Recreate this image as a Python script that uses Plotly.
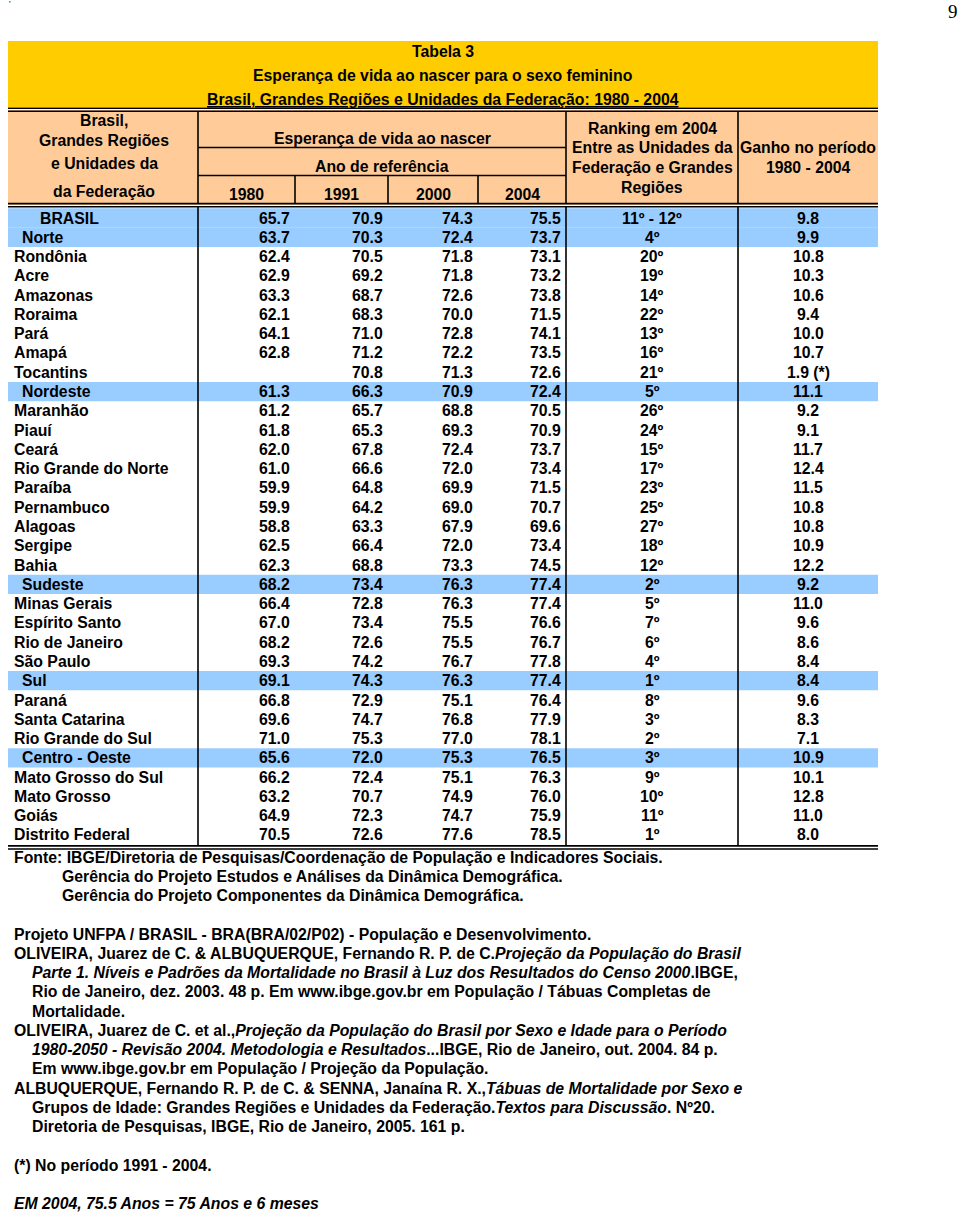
import plotly.graph_objects as go

# ---------------- data ----------------
names = ["BRASIL", "Norte", "Rondônia", "Acre", "Amazonas", "Roraima", "Pará", "Amapá", "Tocantins",
         "Nordeste", "Maranhão", "Piauí", "Ceará", "Rio Grande do Norte", "Paraíba", "Pernambuco",
         "Alagoas", "Sergipe", "Bahia",
         "Sudeste", "Minas Gerais", "Espírito Santo", "Rio de Janeiro", "São Paulo",
         "Sul", "Paraná", "Santa Catarina", "Rio Grande do Sul",
         "Centro - Oeste", "Mato Grosso do Sul", "Mato Grosso", "Goiás", "Distrito Federal"]
country = ["BRASIL"]
regions = ["Norte", "Nordeste", "Sudeste", "Sul", "Centro - Oeste"]

years = ["1980", "1991", "2000", "2004"]
v1980 = [65.7, 63.7, 62.4, 62.9, 63.3, 62.1, 64.1, 62.8, None,
         61.3, 61.2, 61.8, 62.0, 61.0, 59.9, 59.9, 58.8, 62.5, 62.3,
         68.2, 66.4, 67.0, 68.2, 69.3,
         69.1, 66.8, 69.6, 71.0,
         65.6, 66.2, 63.2, 64.9, 70.5]
v1991 = [70.9, 70.3, 70.5, 69.2, 68.7, 68.3, 71.0, 71.2, 70.8,
         66.3, 65.7, 65.3, 67.8, 66.6, 64.8, 64.2, 63.3, 66.4, 68.8,
         73.4, 72.8, 73.4, 72.6, 74.2,
         74.3, 72.9, 74.7, 75.3,
         72.0, 72.4, 70.7, 72.3, 72.6]
v2000 = [74.3, 72.4, 71.8, 71.8, 72.6, 70.0, 72.8, 72.2, 71.3,
         70.9, 68.8, 69.3, 72.4, 72.0, 69.9, 69.0, 67.9, 72.0, 73.3,
         76.3, 76.3, 75.5, 75.5, 76.7,
         76.3, 75.1, 76.8, 77.0,
         75.3, 75.1, 74.9, 74.7, 77.6]
v2004 = [75.5, 73.7, 73.1, 73.2, 73.8, 71.5, 74.1, 73.5, 72.6,
         72.4, 70.5, 70.9, 73.7, 73.4, 71.5, 70.7, 69.6, 73.4, 74.5,
         77.4, 77.4, 76.6, 76.7, 77.8,
         77.4, 76.4, 77.9, 78.1,
         76.5, 76.3, 76.0, 75.9, 78.5]
ranking = ["11º - 12º", "4º", "20º", "19º", "14º", "22º", "13º", "16º", "21º",
           "5º", "26º", "24º", "15º", "17º", "23º", "25º", "27º", "18º", "12º",
           "2º", "5º", "7º", "6º", "4º",
           "1º", "8º", "3º", "2º",
           "3º", "9º", "10º", "11º", "1º"]
ganho = [9.8, 9.9, 10.8, 10.3, 10.6, 9.4, 10.0, 10.7, 1.9,
         11.1, 9.2, 9.1, 11.7, 12.4, 11.5, 10.8, 10.8, 10.9, 12.2,
         9.2, 11.0, 9.6, 8.6, 8.4,
         8.4, 9.6, 8.3, 7.1,
         10.9, 10.1, 12.8, 11.0, 8.0]
ganho_note = {"Tocantins": " (*)"}

title_lines = ["Tabela 3",
               "Esperança de vida ao nascer para o sexo feminino",
               "Brasil, Grandes Regiões e Unidades da Federação: 1980 - 2004"]
stub_header = ["Brasil,", "Grandes Regiões", "e Unidades da", "da Federação"]
group_header = "Esperança de vida ao nascer"
sub_header = "Ano de referência"
rank_header = ["Ranking em 2004", "Entre as Unidades da", "Federação e Grandes", "Regiões"]
gain_header = ["Ganho no período", "1980 - 2004"]

footnotes = [
    (0, "Fonte: IBGE/Diretoria de Pesquisas/Coordenação de População e Indicadores Sociais."),
    (2, "Gerência do Projeto Estudos e Análises da Dinâmica Demográfica."),
    (2, "Gerência do Projeto Componentes da Dinâmica Demográfica."),
    (None, ""),
    (0, "Projeto UNFPA / BRASIL - BRA(BRA/02/P02) - População e Desenvolvimento."),
    (0, "OLIVEIRA, Juarez de C. & ALBUQUERQUE, Fernando R. P. de C.<i>Projeção da População do Brasil</i>"),
    (1, "<i>Parte 1. Níveis e Padrões da Mortalidade no Brasil à Luz dos Resultados do Censo 2000</i>.IBGE,"),
    (1, "Rio de Janeiro, dez. 2003. 48 p. Em www.ibge.gov.br em População / Tábuas Completas de"),
    (1, "Mortalidade."),
    (0, "OLIVEIRA, Juarez de C. et al.,<i>Projeção da População do Brasil por Sexo e Idade para o Período</i>"),
    (1, "<i>1980-2050 - Revisão 2004. Metodologia e Resultados</i>...IBGE, Rio de Janeiro, out. 2004. 84 p."),
    (1, "Em www.ibge.gov.br em População / Projeção da População."),
    (0, "ALBUQUERQUE, Fernando R. P. de C. & SENNA, Janaína R. X.,<i>Tábuas de Mortalidade por Sexo e</i>"),
    (1, "Grupos de Idade: Grandes Regiões e Unidades da Federação.<i>Textos para Discussão</i>. Nº20."),
    (1, "Diretoria de Pesquisas, IBGE, Rio de Janeiro, 2005. 161 p."),
    (None, ""),
    (0, "(*) No período 1991 - 2004."),
    (None, ""),
    (0, "<i>EM 2004, 75.5 Anos = 75 Anos e 6 meses</i>"),
]

# ---------------- layout geometry ----------------
W, H = 960, 1214
FONT = "Liberation Sans, Arial, Helvetica, sans-serif"
FS = 15.8
YELLOW, ORANGE, BLUE = "#FFCC00", "#FFCC99", "#99CCFF"
X0, X1 = 8, 878
C_STUB, C80, C91, C00, C04, C_RANK = 198, 295, 388, 478, 566, 738
ROW0, DY = 218.0, 19.28
FOOT0 = 857.0

shapes, ann = [], []


def rect(x0, y0, x1, y1, color):
    shapes.append(dict(type="rect", xref="x", yref="y", x0=x0, y0=y0, x1=x1, y1=y1,
                       fillcolor=color, line=dict(width=0), layer="below"))


def hline(x0, x1, y, w=1.6):
    shapes.append(dict(type="line", xref="x", yref="y", x0=x0, x1=x1, y0=y, y1=y,
                       line=dict(color="black", width=w)))


def vline(x, y0, y1, w=1.6):
    shapes.append(dict(type="line", xref="x", yref="y", x0=x, x1=x, y0=y0, y1=y1,
                       line=dict(color="black", width=w)))


def text(x, y, s, anchor="center", size=FS, family=FONT, weight="bold", under=False):
    f = dict(family=family, size=size, color="black", weight=weight)
    if under:
        f["lineposition"] = "under"
    ann.append(dict(x=x, y=y, xref="x", yref="y", text=s, showarrow=False,
                    xanchor=anchor, yanchor="middle", font=f, align="left"))


# title band
rect(X0, 41, X1, 107, YELLOW)
tc = (X0 + X1) / 2
text(tc, 51, title_lines[0])
text(tc, 75, title_lines[1])
text(tc, 99, title_lines[2], under=True)

# header band
rect(X0, 110, X1, 205, ORANGE)
hline(X0, X1, 108.2)
hline(X0, X1, 111.3)
hline(X0, X1, 203.6)
hline(X0, X1, 206.7)
vline(C_STUB, 111, 204)
vline(C04, 111, 204)
vline(C_RANK, 111, 204)
hline(C_STUB, C04, 147.5)
hline(C_STUB, C04, 175.5)
for cx in (C80, C91, C00):
    vline(cx, 175.5, 204)

stub_c = (X0 + C_STUB) / 2 + 1
for s, y in zip(stub_header, [120, 140, 163, 191]):
    text(stub_c, y, s)
text((C_STUB + C04) / 2, 138, group_header)
text((C_STUB + C04) / 2, 166, sub_header)
ycols = [(C_STUB, C80), (C80, C91), (C91, C00), (C00, C04)]
for lab, (a, b) in zip(years, ycols):
    text((a + b) / 2, 194, lab)
rank_c = (C04 + C_RANK) / 2
for s, y in zip(rank_header, [128, 147.5, 167, 187.5]):
    text(rank_c, y, s)
gain_c = (C_RANK + X1) / 2
for s, y in zip(gain_header, [147.5, 167]):
    text(gain_c, y, s)

# body
n = len(names)
body_top = ROW0 - DY / 2
body_bot = ROW0 + (n - 1) * DY + DY / 2
for i, nm in enumerate(names):
    yc = ROW0 + i * DY
    if nm in country or nm in regions:
        rect(X0, yc - DY / 2, X1, yc + DY / 2, BLUE)
    if nm in country:
        lx = 38
    elif nm in regions:
        lx = 20
    else:
        lx = 12
    text(lx, yc, nm, anchor="left")
    for vals, (a, b) in zip([v1980, v1991, v2000, v2004], ycols):
        v = vals[i]
        if v is not None:
            text(b - 3, yc, f"{v:.1f}", anchor="right")
    text(rank_c, yc, ranking[i])
    text(gain_c, yc, f"{ganho[i]:.1f}" + ganho_note.get(nm, ""))

vline(C_STUB, 206, body_bot + 1)
vline(C04, 206, body_bot + 1)
vline(C_RANK, 206, body_bot + 1)
hline(X0, X1, body_bot + 1.3)
hline(X0, X1, body_bot + 4.4)

# footnotes
indent = {0: 12, 1: 30, 2: 60}
for k, (lvl, s) in enumerate(footnotes):
    if lvl is None:
        continue
    text(indent[lvl], FOOT0 + k * 19.27, s, anchor="left")

# page marks
text(7, 4, "'", anchor="left", size=9, family="Liberation Serif, serif", weight="normal")
text(953, 11, "9", anchor="center", size=19, family="Liberation Serif, serif", weight="normal")

fig = go.Figure()
fig.update_layout(
    width=W, height=H, margin=dict(l=0, r=0, t=0, b=0),
    paper_bgcolor="white", plot_bgcolor="white",
    xaxis=dict(range=[0, W], visible=False, fixedrange=True),
    yaxis=dict(range=[H, 0], visible=False, fixedrange=True),
    shapes=shapes, annotations=ann, showlegend=False, hovermode=False,
)
fig.write_html("out.html", config={"displayModeBar": False, "staticPlot": True},
               post_script="document.body.style.margin='0';document.body.style.overflow='hidden';")
